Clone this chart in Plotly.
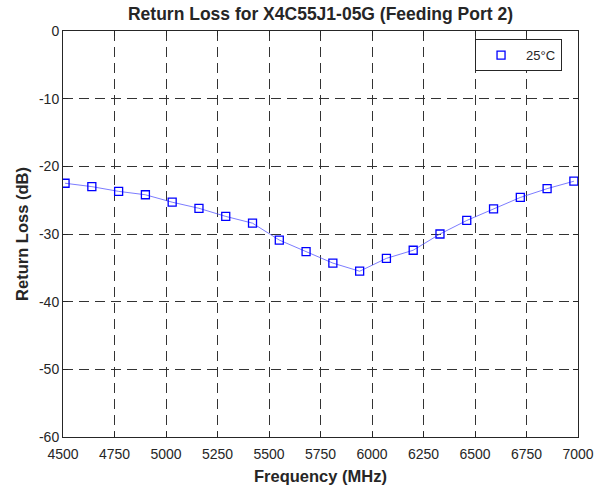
import plotly.graph_objects as go

freq = [4510, 4640, 4770, 4900, 5030, 5160, 5290, 5420, 5550, 5680,
        5810, 5940, 6070, 6200, 6330, 6460, 6590, 6720, 6850, 6980]
return_loss = [-22.5, -23.0, -23.7, -24.2, -25.3, -26.2, -27.4, -28.4, -30.9, -32.6,
               -34.3, -35.5, -33.6, -32.4, -30.0, -28.0, -26.3, -24.6, -23.3, -22.2]
series_name = "25°C"
x_ticks = [4500, 4750, 5000, 5250, 5500, 5750, 6000, 6250, 6500, 6750, 7000]
y_ticks = [0, -10, -20, -30, -40, -50, -60]

font_family = "Liberation Sans, Arial, sans-serif"
ink = "#262626"

fig = go.Figure()
fig.add_trace(go.Scatter(
    x=freq, y=return_loss, mode="lines",
    line=dict(color="rgba(80,80,255,0.75)", width=1),
    showlegend=False, hoverinfo="skip"))
fig.add_trace(go.Scatter(
    x=freq, y=return_loss, mode="markers", name=series_name,
    marker=dict(symbol="square-open", size=8, color="#0000ff",
                line=dict(width=1.3, color="#0000ff"))))

axis_common = dict(
    showline=True, linecolor=ink, linewidth=1, mirror="ticks",
    ticks="inside", ticklen=5, tickcolor=ink, tickwidth=1,
    showgrid=True, gridcolor="#333333", gridwidth=1, griddash="10px,6px",
    zeroline=False, automargin=False,
    tickfont=dict(size=14, color=ink, family=font_family),
)

fig.update_xaxes(range=[4500, 7000], tickvals=x_ticks,
                 ticktext=[str(v) for v in x_ticks], ticklabelstandoff=4,
                 title=dict(text="<b>Frequency (MHz)</b>", standoff=9,
                            font=dict(size=16.5, color=ink, family=font_family)),
                 **axis_common)
fig.update_yaxes(range=[-60, 0], tickvals=y_ticks,
                 ticktext=[str(v) for v in y_ticks],
                 title=dict(text="<b>Return Loss (dB)</b>", standoff=6,
                            font=dict(size=16.5, color=ink, family=font_family)),
                 **axis_common)

fig.update_layout(
    width=605, height=491,
    margin=dict(l=63, r=27, t=31, b=54),
    paper_bgcolor="white", plot_bgcolor="white",
    title=dict(text="<b>Return Loss for X4C55J1-05G (Feeding Port 2)</b>",
               x=0.5, xref="paper", xanchor="center",
               y=1 - 14 / 491, yanchor="middle",
               font=dict(size=17.5, color=ink, family=font_family)),
    legend=dict(x=0.969, xanchor="right", y=0.98, yanchor="top",
                bgcolor="white", bordercolor=ink, borderwidth=1,
                tracegroupgap=0, itemwidth=40,
                font=dict(size=13, color=ink, family=font_family)),
    font=dict(family=font_family),
)

fig.write_html("out.html", config={"displayModeBar": False},
               post_script="document.body.style.margin='0';")
